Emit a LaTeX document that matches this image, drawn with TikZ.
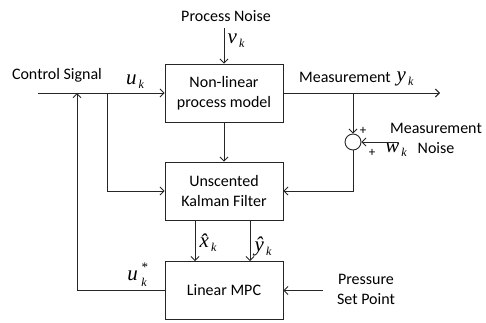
\documentclass[tikz,border=0pt]{standalone}
\usepackage{fontspec}
\setmainfont{Carlito}
\newfontfamily\serifit{Liberation Serif}
\usetikzlibrary{arrows.meta}
\newcommand\vsub[2]{{\serifit\itshape\fontsize{21}{21}\selectfont #1}\raisebox{-4pt}{\serifit\itshape\fontsize{12}{12}\selectfont\,#2}}
\newcommand\vsubsup[3]{{\serifit\itshape\fontsize{21}{21}\selectfont #1}\makebox[0pt][l]{\raisebox{9pt}{\serifit\fontsize{13}{13}\selectfont\;#3}}\raisebox{-6pt}{\serifit\itshape\fontsize{12}{12}\selectfont\;#2}}
\begin{document}
\begin{tikzpicture}[x=1pt,y=-1pt, line width=0.9pt, draw=black!85,
 blk/.style={draw, minimum width=118pt, minimum height=58pt, align=center, inner sep=0pt, font=\fontsize{16}{20}\selectfont},
 lbl/.style={font=\fontsize{16}{20}\selectfont, inner sep=0pt, align=center},
 ml/.style={inner sep=0pt},
 arr/.style={-{Straight Barb[length=4pt,width=8pt]}},
]
\useasboundingbox (0,0) rectangle (486,322);
\node[blk] (pm) at (224,93) {Non-linear\\process model};
\node[blk] (ukf) at (224,191) {Unscented\\Kalman Filter};
\node[blk] (mpc) at (224,290.5) {Linear MPC};
\node[circle, draw, minimum size=16pt, inner sep=0pt] (sum) at (353,142) {};

\node[lbl] (cstext) at (57,75) {Control Signal};
\node[lbl] (pntext) at (226,16) {Process Noise};
\node[lbl] (mtext) at (345,77) {Measurement};
\node[lbl] (mntext) at (436,138) {Measurement\\Noise};
\node[lbl] (pstext) at (366,289) {Pressure\\Set Point};
\node[lbl, font=\fontsize{13}{13}\selectfont] (p1) at (363,131) {+};
\node[lbl, font=\fontsize{13}{13}\selectfont] (p2) at (372,153) {+};

\node[ml] (uk) at (135,82) {\vsub{u}{k}};
\node[ml] (vk) at (236,41) {\vsub{v}{k}};
\node[ml] (yk) at (405,79) {\vsub{y}{k}};
\node[ml] (wk) at (396,150) {\vsub{w}{k}};
\node[ml] (xh) at (208,243) {\vsub{\^x}{k}};
\node[ml] (yh) at (263,246) {\vsub{\^y}{k}};
\node[ml] (us) at (137,275) {\vsubsup{u}{k}{*}};

\coordinate (cs) at (38,93);
\coordinate (j1) at (107,93);
\coordinate (fb) at (77,93);
\coordinate (pn) at (224,28);
\coordinate (mo) at (440,93);
\coordinate (j2) at (353,93);
\coordinate (mn) at (398,142);
\coordinate (ps) at (323,290.5);

\draw[arr] (cs) -- (pm.west);
\draw[arr] (j1) |- (ukf.west);
\draw[arr] (mpc.west) -| (fb);
\draw[arr] (pn) -- (pm.north);
\draw[arr] (pm) -- (ukf);
\draw[arr] (pm.east) -- (mo);
\draw[arr] (j2) -- (sum.north);
\draw[arr] (sum.south) |- (ukf.east);
\draw[arr] (mn) -- (sum.east);
\draw[arr] ([xshift=-29pt]ukf.south) -- ([xshift=-29pt]mpc.north);
\draw[arr] ([xshift=26pt]ukf.south) -- ([xshift=26pt]mpc.north);
\draw[arr] (ps) -- (mpc.east);
\end{tikzpicture}
\end{document}
